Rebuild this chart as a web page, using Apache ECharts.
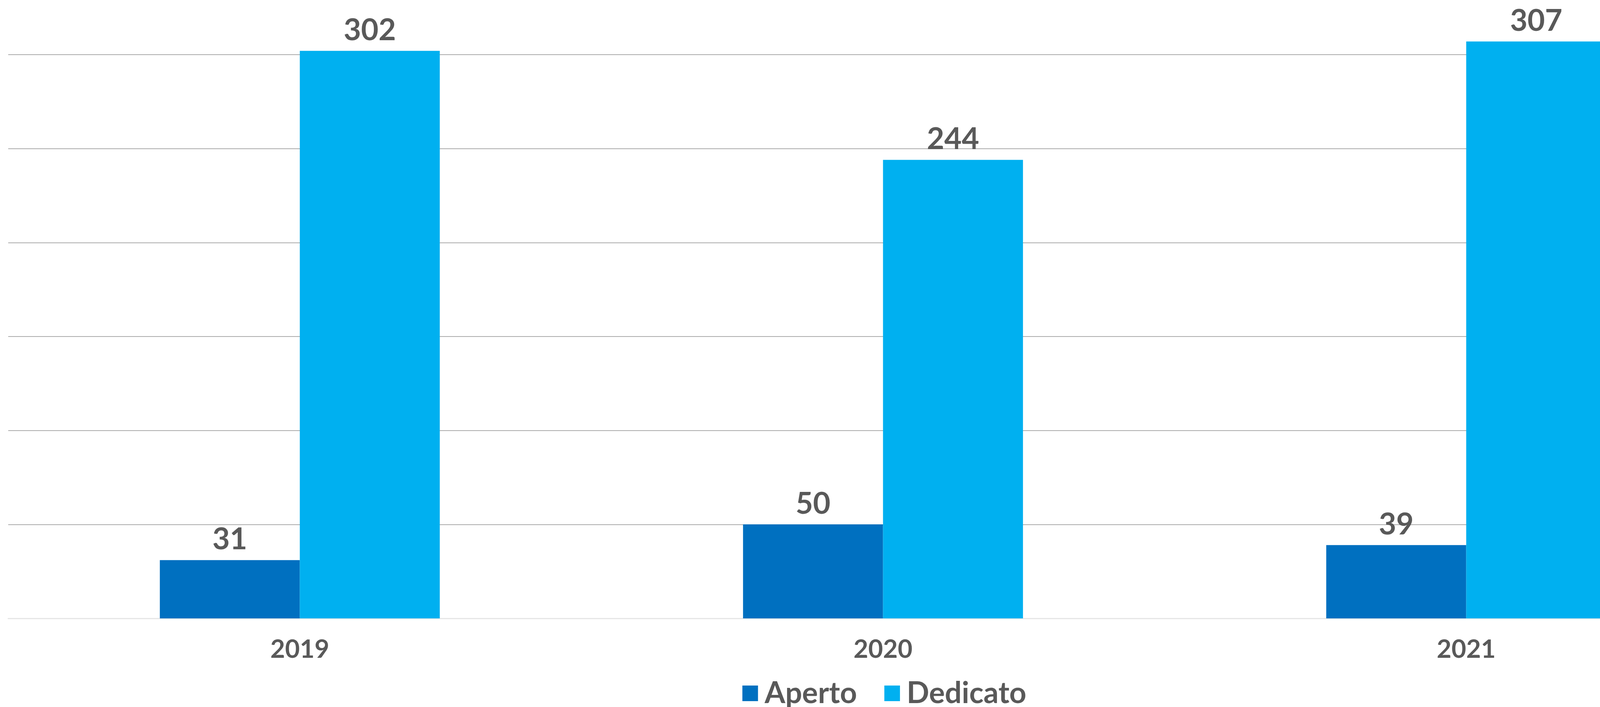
<!DOCTYPE html>
<html>
<head>
<meta charset="utf-8">
<script src="https://cdn.jsdelivr.net/npm/echarts@6/dist/echarts.min.js"></script>
<style>
html,body{margin:0;padding:0;background:#fff;}
#chart{width:4528px;height:1811px;}
</style>
</head>
<body>
<div id="chart"></div>
<script>
const categories = ['2019', '2020', '2021'];
const seriesNames = ['Aperto', 'Dedicato'];
const aperto = [31, 50, 39];
const dedicato = [302, 244, 307];
const colors = ['#0070C0', '#00B0F0'];

const chart = echarts.init(document.getElementById('chart'));
const textColor = '#595959';
const font = 'Lato';

const labelCfg = {
  show: true,
  position: 'top',
  distance: 14,
  color: textColor,
  fontFamily: font,
  fontWeight: 'bold',
  fontSize: 77
};

chart.setOption({
  animation: false,
  backgroundColor: '#ffffff',
  grid: { left: 21, right: 28, top: 140, bottom: 227, containLabel: false },
  legend: {
    data: seriesNames,
    bottom: 0,
    top: 1733,
    left: 'center',
    icon: 'rect',
    itemWidth: 40,
    itemHeight: 40,
    itemGap: 70,
    textStyle: {
      color: textColor,
      fontFamily: font,
      fontWeight: 'bold',
      fontSize: 76,
      padding: [0, 0, 0, 12]
    }
  },
  xAxis: {
    type: 'category',
    data: categories,
    axisLine: { show: true, lineStyle: { color: '#E6E6E6', width: 3 } },
    axisTick: { show: false },
    axisLabel: {
      color: textColor,
      fontFamily: font,
      fontWeight: 'bold',
      fontSize: 65,
      margin: 48
    }
  },
  yAxis: {
    type: 'value',
    min: 0,
    max: 300,
    interval: 50,
    axisLine: { show: false },
    axisTick: { show: false },
    axisLabel: { show: false },
    splitLine: { show: true, lineStyle: { color: '#ABABAB', width: 2 } }
  },
  series: [
    {
      name: seriesNames[0],
      type: 'bar',
      data: aperto,
      clip: false,
      barGap: '0%',
      barCategoryGap: '52%',
      itemStyle: { color: colors[0] },
      label: labelCfg
    },
    {
      name: seriesNames[1],
      type: 'bar',
      data: dedicato,
      clip: false,
      barGap: '0%',
      barCategoryGap: '52%',
      itemStyle: { color: colors[1] },
      label: labelCfg
    }
  ]
});
</script>
</body>
</html>
